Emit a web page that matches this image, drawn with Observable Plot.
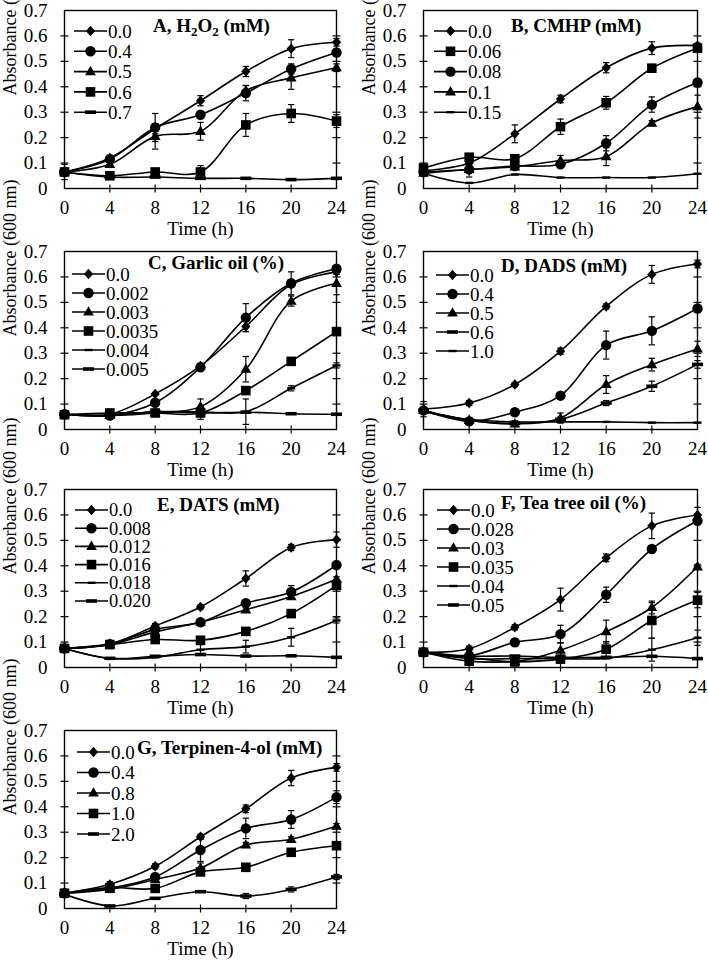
<!DOCTYPE html>
<html><head><meta charset="utf-8">
<script src="https://cdn.jsdelivr.net/npm/d3@7"></script>
<script src="https://cdn.jsdelivr.net/npm/@observablehq/plot@0.6"></script>
<style>
body{margin:0;background:#fff;}
#root{position:relative;width:708px;height:965px;overflow:hidden;background:#fff;}
.panel{position:absolute;}
.panel svg, .panel svg text{font-family:"Liberation Serif","Times New Roman",serif !important;}
</style></head><body><div id="root"></div>
<script>
// ---------- shared axes ----------
const times = [0, 4, 8, 12, 16, 20, 24];
const yTicks = [0, 0.1, 0.2, 0.3, 0.4, 0.5, 0.6, 0.7];
const xDomain = [0, 24];
const yDomain = [0, 0.7];

// ---------- Panel A: H2O2 (mM) ----------
const A_conc = ["0.0", "0.4", "0.5", "0.6", "0.7"];
const A_mean = [
  [0.065, 0.120, 0.235, 0.345, 0.460, 0.550, 0.575],
  [0.065, 0.115, 0.240, 0.290, 0.375, 0.470, 0.535],
  [0.065, 0.095, 0.205, 0.225, 0.385, 0.435, 0.475],
  [0.065, 0.050, 0.065, 0.065, 0.250, 0.295, 0.265],
  [0.065, 0.045, 0.045, 0.040, 0.040, 0.035, 0.040]
];
const A_sd = [
  [0.030, 0.010, 0.020, 0.020, 0.020, 0.035, 0.015],
  [0.010, 0.010, 0.055, 0.010, 0.030, 0.020, 0.010],
  [0.010, 0.010, 0.050, 0.035, 0.020, 0.045, 0.015],
  [0.010, 0.010, 0.010, 0.025, 0.045, 0.035, 0.025],
  [0, 0, 0, 0, 0, 0, 0]
];

// ---------- Panel B: CMHP (mM) ----------
const B_conc = ["0.0", "0.06", "0.08", "0.1", "0.15"];
const B_mean = [
  [0.070, 0.100, 0.215, 0.352, 0.475, 0.552, 0.562],
  [0.080, 0.123, 0.117, 0.243, 0.337, 0.473, 0.552],
  [0.065, 0.075, 0.088, 0.095, 0.178, 0.330, 0.417],
  [0.060, 0.075, 0.085, 0.110, 0.125, 0.257, 0.322],
  [0.060, 0.022, 0.055, 0.043, 0.043, 0.043, 0.058]
];
const B_sd = [
  [0.010, 0.010, 0.035, 0.015, 0.020, 0.025, 0.010],
  [0.015, 0.010, 0.010, 0.030, 0.025, 0.015, 0.010],
  [0.010, 0.010, 0.010, 0.010, 0.030, 0.030, 0.010],
  [0.010, 0.030, 0.010, 0.020, 0.035, 0.010, 0.045],
  [0, 0, 0, 0, 0, 0, 0]
];

// ---------- Panel C: Garlic oil (%) ----------
const C_conc = ["0.0", "0.002", "0.003", "0.0035", "0.004", "0.005"];
const C_mean = [
  [0.060, 0.060, 0.140, 0.250, 0.405, 0.570, 0.620],
  [0.060, 0.055, 0.105, 0.245, 0.440, 0.575, 0.632],
  [0.060, 0.055, 0.065, 0.090, 0.237, 0.505, 0.575],
  [0.058, 0.065, 0.065, 0.065, 0.153, 0.268, 0.385],
  [0.060, 0.055, 0.070, 0.070, 0.070, 0.162, 0.252],
  [0.060, 0.055, 0.070, 0.065, 0.068, 0.062, 0.060]
];
const C_sd = [
  [0.005, 0.005, 0.005, 0.010, 0.020, 0.010, 0.010],
  [0.010, 0.005, 0.010, 0.010, 0.055, 0.045, 0.010],
  [0.005, 0.005, 0.010, 0.030, 0.050, 0.020, 0.045],
  [0.005, 0.005, 0.010, 0.025, 0.010, 0.010, 0.010],
  [0, 0, 0, 0, 0.050, 0.010, 0.010],
  [0, 0, 0, 0, 0, 0, 0]
];

// ---------- Panel D: DADS (mM) ----------
const D_conc = ["0.0", "0.4", "0.5", "0.6", "1.0"];
const D_mean = [
  [0.080, 0.104, 0.177, 0.308, 0.484, 0.610, 0.651],
  [0.075, 0.032, 0.068, 0.133, 0.332, 0.388, 0.476],
  [0.075, 0.037, 0.022, 0.045, 0.177, 0.255, 0.317],
  [0.075, 0.036, 0.024, 0.040, 0.104, 0.170, 0.256],
  [0.070, 0.040, 0.030, 0.030, 0.030, 0.027, 0.027]
];
const D_sd = [
  [0.030, 0.010, 0.008, 0.012, 0.010, 0.035, 0.015],
  [0.010, 0.010, 0.010, 0.010, 0.055, 0.055, 0.010],
  [0.010, 0.010, 0.010, 0.020, 0.035, 0.025, 0.030],
  [0.010, 0.010, 0.010, 0.010, 0.010, 0.020, 0.015],
  [0, 0, 0, 0, 0, 0, 0]
];

// ---------- Panel E: DATS (mM) ----------
const E_conc = ["0.0", "0.008", "0.012", "0.016", "0.018", "0.020"];
const E_mean = [
  [0.075, 0.093, 0.163, 0.238, 0.350, 0.472, 0.503],
  [0.075, 0.092, 0.150, 0.178, 0.253, 0.297, 0.403],
  [0.075, 0.090, 0.140, 0.178, 0.227, 0.279, 0.347],
  [0.075, 0.090, 0.110, 0.107, 0.142, 0.212, 0.323],
  [0.075, 0.036, 0.040, 0.070, 0.082, 0.119, 0.185],
  [0.075, 0.036, 0.044, 0.051, 0.045, 0.046, 0.040]
];
const E_sd = [
  [0.010, 0.010, 0.010, 0.008, 0.030, 0.012, 0.030],
  [0.010, 0.010, 0.010, 0.010, 0.010, 0.025, 0.010],
  [0.010, 0.010, 0.010, 0.010, 0.010, 0.010, 0.010],
  [0.010, 0.010, 0.010, 0.015, 0.010, 0.010, 0.010],
  [0, 0, 0, 0.020, 0.025, 0.035, 0.010],
  [0, 0, 0, 0, 0, 0, 0]
];

// ---------- Panel F: Tea tree oil (%) ----------
const F_conc = ["0.0", "0.028", "0.03", "0.035", "0.04", "0.05"];
const F_mean = [
  [0.060, 0.074, 0.158, 0.267, 0.431, 0.557, 0.600],
  [0.060, 0.046, 0.099, 0.131, 0.286, 0.466, 0.577],
  [0.060, 0.040, 0.024, 0.068, 0.141, 0.236, 0.396],
  [0.060, 0.025, 0.022, 0.033, 0.072, 0.185, 0.265],
  [0.060, 0.035, 0.035, 0.035, 0.036, 0.070, 0.117],
  [0.060, 0.045, 0.045, 0.040, 0.040, 0.044, 0.035]
];
const F_sd = [
  [0.010, 0.010, 0.010, 0.045, 0.015, 0.050, 0.030],
  [0.010, 0.010, 0.015, 0.035, 0.030, 0.010, 0.010],
  [0.010, 0.010, 0.010, 0.030, 0.045, 0.025, 0.010],
  [0.010, 0.010, 0.010, 0.010, 0.030, 0.070, 0.030],
  [0, 0, 0, 0, 0, 0.045, 0.030],
  [0, 0, 0, 0, 0, 0, 0]
];

// ---------- Panel G: Terpinen-4-ol (mM) ----------
const G_conc = ["0.0", "0.4", "0.8", "1.0", "2.0"];
const G_mean = [
  [0.060, 0.095, 0.166, 0.282, 0.392, 0.513, 0.555],
  [0.060, 0.080, 0.124, 0.230, 0.315, 0.350, 0.438],
  [0.060, 0.075, 0.114, 0.159, 0.250, 0.272, 0.324],
  [0.060, 0.082, 0.079, 0.144, 0.162, 0.221, 0.247],
  [0.056, 0.010, 0.040, 0.066, 0.049, 0.075, 0.124]
];
const G_sd = [
  [0.010, 0.010, 0.010, 0.010, 0.015, 0.030, 0.015],
  [0.010, 0.010, 0.010, 0.045, 0.040, 0.035, 0.025],
  [0.010, 0.010, 0.010, 0.020, 0.010, 0.010, 0.010],
  [0.010, 0.010, 0.010, 0.010, 0.010, 0.010, 0.010],
  [0, 0, 0, 0, 0.010, 0.010, 0.010]
];

// ---------- styling ----------
const FONT = "Liberation Serif, Times New Roman, serif";
const SYM = {
  diamond: {draw(c) { c.moveTo(0, -5.2); c.lineTo(4.6, 0); c.lineTo(0, 5.2); c.lineTo(-4.6, 0); c.closePath(); }},
  circle: {draw(c) { c.moveTo(5.2, 0); c.arc(0, 0, 5.2, 0, 2 * Math.PI); c.closePath(); }},
  triangle: {draw(c) { c.moveTo(0, -5.8); c.lineTo(5.4, 3.6); c.lineTo(-5.4, 3.6); c.closePath(); }},
  square: {draw(c) { c.rect(-4.8, -4.8, 9.6, 9.6); }},
  dashS: {draw(c) { c.rect(-4, -1.2, 8, 2.4); }},
  dashL: {draw(c) { c.rect(-5.5, -1.8, 11, 3.6); }}
};
const TICK_H = {draw(c) { c.moveTo(-4, 0); c.lineTo(4, 0); }};
const TICK_V = {draw(c) { c.moveTo(0, -4); c.lineTo(0, 4); }};
const CAP = {draw(c) { c.moveTo(-3.2, 0); c.lineTo(3.2, 0); }};

const panels = [
  {conc: A_conc, mean: A_mean, sd: A_sd, title: [["A, H", 0], ["2", 1], ["O", 0], ["2", 1], [" (mM)", 0]],
   sym: ["diamond", "circle", "triangle", "square", "dashL"], col: 0, row: 0,
   tdx: 89, tdy: 22, ldx: 10, ldy: 21, lstep: 20.3, lfs: 19},
  {conc: B_conc, mean: B_mean, sd: B_sd, title: [["B, CMHP (mM)", 0]],
   sym: ["diamond", "square", "circle", "triangle", "dashS"], col: 1, row: 0,
   tdx: 88, tdy: 22, ldx: 11, ldy: 21, lstep: 20.3, lfs: 19},
  {conc: C_conc, mean: C_mean, sd: C_sd, title: [["C, Garlic oil (%)", 0]],
   sym: ["diamond", "circle", "triangle", "square", "dashS", "dashL"], col: 0, row: 1,
   tdx: 84, tdy: 18, ldx: 8, ldy: 23, lstep: 19, lfs: 19},
  {conc: D_conc, mean: D_mean, sd: D_sd, title: [["D, DADS (mM)", 0]],
   sym: ["diamond", "circle", "triangle", "dashL", "dashS"], col: 1, row: 1,
   tdx: 78, tdy: 21, ldx: 13, ldy: 24, lstep: 19, lfs: 19},
  {conc: E_conc, mean: E_mean, sd: E_sd, title: [["E, DATS (mM)", 0]],
   sym: ["diamond", "circle", "triangle", "square", "dashS", "dashL"], col: 0, row: 2,
   tdx: 93, tdy: 22, ldx: 11, ldy: 21, lstep: 18.2, lfs: 18.5},
  {conc: F_conc, mean: F_mean, sd: F_sd, title: [["F, Tea tree oil (%)", 0]],
   sym: ["diamond", "circle", "triangle", "square", "dashS", "dashL"], col: 1, row: 2,
   tdx: 78, tdy: 20, ldx: 14, ldy: 21, lstep: 19, lfs: 19},
  {conc: G_conc, mean: G_mean, sd: G_sd, title: [["G, Terpinen-4-ol (mM)", 0]],
   sym: ["diamond", "circle", "triangle", "square", "dashL"], col: 0, row: 3,
   tdx: 73, tdy: 24, ldx: 13, ldy: 22, lstep: 20.5, lfs: 19}
];

const colLeft = [0, 354];
const mLeft = [64, 69];
const mRight = [18, 11];
const rowTop = [2, 243, 481, 722];
const W = 354, H = 242, MT = 8, MB = 56;

const root = document.getElementById("root");

for (const p of panels) {
  const rows = p.conc.flatMap((c, i) => times.map((t, j) => ({s: i, t, v: p.mean[i][j], e: p.sd[i][j]})));
  const errRows = rows.filter(d => d.e > 0);
  const capRows = errRows.flatMap(d => [{t: d.t, y: d.v - d.e}, {t: d.t, y: d.v + d.e}]);
  const ml = mLeft[p.col], mr = mRight[p.col];

  const marks = [
    Plot.ruleX(errRows, {x: "t", y1: d => d.v - d.e, y2: d => d.v + d.e, stroke: "black", strokeWidth: 1.2}),
    Plot.dot(capRows, {x: "t", y: "y", symbol: CAP, fill: "none", stroke: "black", strokeWidth: 1.2, r: 3}),
    Plot.line(rows, {x: "t", y: "v", z: "s", curve: "catmull-rom", stroke: "black", strokeWidth: 1.6}),
    ...p.conc.map((c, i) => Plot.dot(rows.filter(d => d.s === i), {x: "t", y: "v", symbol: SYM[p.sym[i]], fill: "black", stroke: "none", r: 5})),
    Plot.frame({stroke: "black", strokeWidth: 1.4}),
    Plot.dot(yTicks.slice(1, -1), {x: () => xDomain[0], y: d => d, symbol: TICK_H, fill: "none", stroke: "black", strokeWidth: 1.2, r: 4}),
    Plot.dot(yTicks.slice(1, -1), {x: () => xDomain[1], y: d => d, symbol: TICK_H, fill: "none", stroke: "black", strokeWidth: 1.2, r: 4}),
    Plot.dot(times.slice(1, -1), {x: d => d, y: () => yDomain[0], symbol: TICK_V, fill: "none", stroke: "black", strokeWidth: 1.2, r: 4}),
    Plot.axisY(yTicks, {tickSize: 0, tickPadding: 17, tickFormat: d => d === 0 ? "0" : d.toFixed(1), fontSize: 19, fontFamily: FONT, label: null}),
    Plot.axisX(times, {tickSize: 0, tickPadding: 12, tickFormat: d => String(d), fontSize: 19, fontFamily: FONT, label: null}),
    Plot.text(["Time (h)"], {text: d => d, frameAnchor: "bottom", dy: 40, lineAnchor: "middle", fontSize: 19, fontFamily: FONT}),
    Plot.text(["Absorbance (600 nm)"], {text: d => d, frameAnchor: "left", dx: -54, dy: -4, rotate: -90, lineAnchor: "middle", fontSize: 18, fontFamily: FONT})
  ];

  const svg = Plot.plot({
    width: W, height: H,
    marginLeft: ml, marginRight: mr, marginTop: MT, marginBottom: MB,
    x: {domain: xDomain},
    y: {domain: yDomain},
    style: {fontSize: "19px", color: "black", background: "white", overflow: "visible"},
    marks
  });

  const s = d3.select(svg);
  s.attr("font-family", FONT).style("font-family", FONT);
  // title
  const tt = s.append("text")
    .attr("x", ml + p.tdx).attr("y", MT + p.tdy).attr("text-anchor", "start")
    .attr("font-family", FONT).attr("font-size", 19).attr("font-weight", "bold").attr("fill", "black");
  p.title.forEach(([str, sub], k) => {
    const prev = k > 0 ? p.title[k - 1][1] : 0;
    const ts = tt.append("tspan").text(str).attr("dy", sub - prev === 1 ? 4 : sub - prev === -1 ? -4 : 0);
    if (sub) ts.attr("font-size", 13);
  });
  // legend
  const lg = s.append("g");
  p.conc.forEach((c, i) => {
    const y = MT + p.ldy + i * p.lstep;
    const x0 = ml + p.ldx, x1 = x0 + 33;
    lg.append("line").attr("x1", x0).attr("x2", x1).attr("y1", y).attr("y2", y)
      .attr("stroke", "black").attr("stroke-width", 1.6);
    lg.append("path").attr("d", d3.symbol().type(SYM[p.sym[i]])()).attr("transform", `translate(${(x0 + x1) / 2},${y})`).attr("fill", "black");
    lg.append("text").attr("x", x1 + 1).attr("y", y).attr("dy", "0.35em").attr("text-anchor", "start")
      .attr("font-family", FONT).attr("font-size", p.lfs).attr("fill", "black").text(c);
  });

  const div = document.createElement("div");
  div.className = "panel";
  div.style.left = colLeft[p.col] + "px";
  div.style.top = rowTop[p.row] + "px";
  div.appendChild(svg);
  root.appendChild(div);
}
</script>
</body></html>
